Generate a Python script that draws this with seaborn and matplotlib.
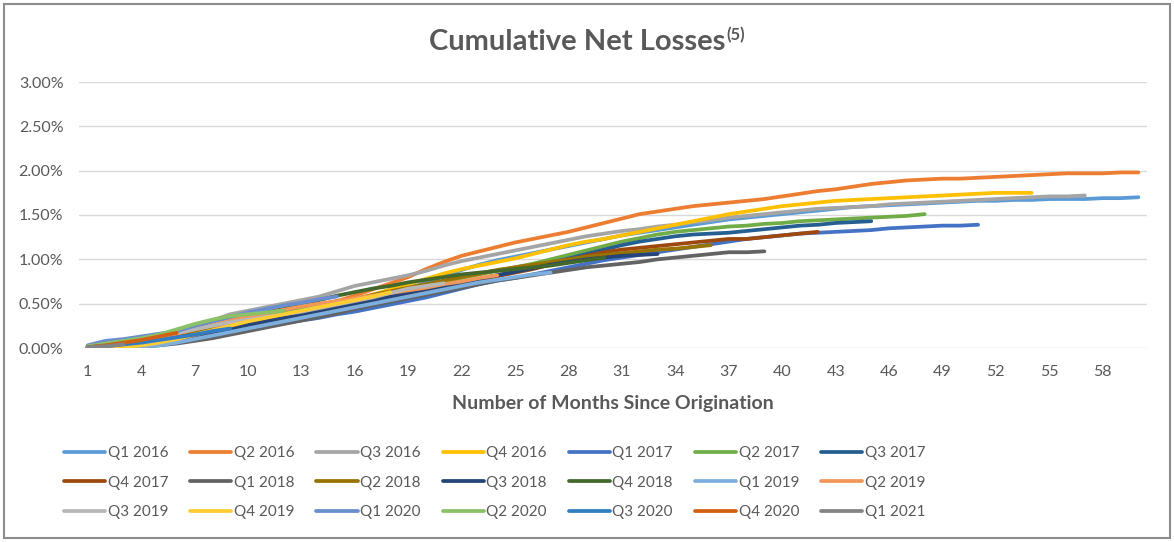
import matplotlib
matplotlib.use("Agg")
import matplotlib.pyplot as plt
from matplotlib.patches import Rectangle
from matplotlib.ticker import FuncFormatter
import seaborn as sns
import pandas as pd

vintages = ["Q1 2016", "Q2 2016", "Q3 2016", "Q4 2016", "Q1 2017", "Q2 2017", "Q3 2017",
            "Q4 2017", "Q1 2018", "Q2 2018", "Q3 2018", "Q4 2018", "Q1 2019", "Q2 2019",
            "Q3 2019", "Q4 2019", "Q1 2020", "Q2 2020", "Q3 2020", "Q4 2020", "Q1 2021"]

colors = ["#5B9BD5", "#ED7D31", "#A5A5A5", "#FFC000", "#4472C4", "#70AD47", "#255E91",
          "#9E480E", "#636363", "#997300", "#264478", "#43682B", "#7CAFDD", "#F1975A",
          "#B7B7B7", "#FFCD33", "#698ED0", "#8CC168", "#327DC2", "#D26012", "#848484"]

# cumulative net losses in percent, month 1 onward
q1_2016 = [0.00, 0.01, 0.02, 0.03, 0.05, 0.08, 0.11, 0.15, 0.19, 0.23,
           0.27, 0.31, 0.35, 0.40, 0.45, 0.50, 0.55, 0.61, 0.67, 0.74,
           0.81, 0.88, 0.94, 0.99, 1.03, 1.07, 1.11, 1.15, 1.19, 1.23,
           1.27, 1.30, 1.33, 1.36, 1.39, 1.42, 1.45, 1.47, 1.49, 1.51,
           1.53, 1.55, 1.57, 1.59, 1.60, 1.61, 1.62, 1.63, 1.64, 1.65,
           1.66, 1.66, 1.67, 1.67, 1.68, 1.68, 1.68, 1.69, 1.69, 1.70]
q2_2016 = [0.00, 0.02, 0.04, 0.07, 0.10, 0.14, 0.18, 0.22, 0.26, 0.30,
           0.34, 0.38, 0.43, 0.48, 0.53, 0.59, 0.66, 0.73, 0.80, 0.89,
           0.97, 1.04, 1.09, 1.14, 1.19, 1.23, 1.27, 1.31, 1.36, 1.41,
           1.46, 1.51, 1.54, 1.57, 1.60, 1.62, 1.64, 1.66, 1.68, 1.71,
           1.74, 1.77, 1.79, 1.82, 1.85, 1.87, 1.89, 1.90, 1.91, 1.91,
           1.92, 1.93, 1.94, 1.95, 1.96, 1.97, 1.97, 1.97, 1.98, 1.98]
q3_2016 = [0.01, 0.04, 0.07, 0.10, 0.14, 0.19, 0.25, 0.31, 0.38, 0.42,
           0.46, 0.50, 0.54, 0.58, 0.64, 0.70, 0.74, 0.78, 0.82, 0.87,
           0.93, 0.98, 1.02, 1.06, 1.10, 1.14, 1.18, 1.22, 1.26, 1.29,
           1.32, 1.34, 1.37, 1.39, 1.42, 1.44, 1.47, 1.49, 1.51, 1.53,
           1.55, 1.57, 1.58, 1.59, 1.60, 1.62, 1.63, 1.64, 1.65, 1.66,
           1.67, 1.68, 1.69, 1.70, 1.71, 1.71, 1.72]
q4_2016 = [0.00, 0.00, 0.01, 0.02, 0.05, 0.09, 0.14, 0.19, 0.24, 0.28,
           0.32, 0.36, 0.40, 0.45, 0.50, 0.55, 0.60, 0.66, 0.72, 0.78,
           0.84, 0.89, 0.93, 0.97, 1.01, 1.06, 1.11, 1.16, 1.20, 1.23,
           1.27, 1.31, 1.35, 1.39, 1.43, 1.47, 1.51, 1.54, 1.57, 1.60,
           1.62, 1.64, 1.66, 1.67, 1.68, 1.69, 1.70, 1.71, 1.72, 1.73,
           1.74, 1.75, 1.75, 1.75]
q1_2017 = [0.00, 0.02, 0.04, 0.06, 0.08, 0.10, 0.13, 0.16, 0.19, 0.22,
           0.25, 0.28, 0.31, 0.34, 0.38, 0.41, 0.45, 0.49, 0.53, 0.57,
           0.62, 0.67, 0.72, 0.76, 0.79, 0.83, 0.87, 0.91, 0.95, 0.99,
           1.02, 1.05, 1.08, 1.11, 1.14, 1.17, 1.20, 1.23, 1.25, 1.27,
           1.29, 1.30, 1.31, 1.32, 1.33, 1.35, 1.36, 1.37, 1.38, 1.38,
           1.39]
q2_2017 = [0.01, 0.04, 0.07, 0.10, 0.14, 0.18, 0.22, 0.26, 0.30, 0.33,
           0.36, 0.40, 0.43, 0.47, 0.51, 0.55, 0.59, 0.63, 0.67, 0.71,
           0.75, 0.79, 0.83, 0.87, 0.91, 0.95, 1.00, 1.05, 1.10, 1.15,
           1.20, 1.24, 1.28, 1.31, 1.33, 1.35, 1.37, 1.38, 1.40, 1.41,
           1.43, 1.44, 1.45, 1.46, 1.47, 1.48, 1.49, 1.51]
q3_2017 = [0.00, 0.02, 0.05, 0.08, 0.11, 0.14, 0.17, 0.20, 0.24, 0.27,
           0.31, 0.34, 0.38, 0.42, 0.46, 0.50, 0.54, 0.58, 0.62, 0.66,
           0.70, 0.74, 0.78, 0.82, 0.86, 0.91, 0.96, 1.01, 1.06, 1.11,
           1.16, 1.20, 1.23, 1.26, 1.28, 1.29, 1.30, 1.32, 1.34, 1.36,
           1.38, 1.39, 1.41, 1.42, 1.43]
q4_2017 = [0.00, 0.01, 0.03, 0.05, 0.08, 0.11, 0.14, 0.17, 0.21, 0.25,
           0.29, 0.33, 0.37, 0.41, 0.45, 0.49, 0.53, 0.57, 0.61, 0.65,
           0.69, 0.73, 0.77, 0.81, 0.85, 0.89, 0.94, 0.99, 1.04, 1.08,
           1.11, 1.13, 1.15, 1.17, 1.19, 1.21, 1.23, 1.23, 1.25, 1.27,
           1.29, 1.31]
q1_2018 = [0.00, 0.00, 0.00, 0.01, 0.03, 0.05, 0.08, 0.11, 0.15, 0.19,
           0.23, 0.27, 0.31, 0.35, 0.39, 0.44, 0.48, 0.52, 0.56, 0.60,
           0.64, 0.68, 0.72, 0.76, 0.79, 0.82, 0.85, 0.88, 0.91, 0.93,
           0.95, 0.97, 1.00, 1.02, 1.04, 1.06, 1.08, 1.08, 1.09]
q2_2018 = [0.01, 0.03, 0.05, 0.08, 0.11, 0.14, 0.17, 0.21, 0.25, 0.29,
           0.33, 0.37, 0.41, 0.45, 0.50, 0.55, 0.60, 0.64, 0.68, 0.72,
           0.76, 0.80, 0.84, 0.88, 0.91, 0.94, 0.97, 1.00, 1.03, 1.05,
           1.07, 1.09, 1.11, 1.12, 1.14, 1.16]
q3_2018 = [0.00, 0.01, 0.03, 0.06, 0.09, 0.12, 0.15, 0.18, 0.22, 0.26,
           0.30, 0.34, 0.38, 0.42, 0.46, 0.50, 0.54, 0.58, 0.62, 0.66,
           0.70, 0.74, 0.78, 0.82, 0.86, 0.90, 0.94, 0.97, 1.00, 1.02,
           1.04, 1.05, 1.06]
q4_2018 = [0.01, 0.04, 0.07, 0.11, 0.15, 0.19, 0.23, 0.27, 0.31, 0.35,
           0.40, 0.44, 0.49, 0.54, 0.59, 0.63, 0.67, 0.70, 0.74, 0.77,
           0.80, 0.83, 0.85, 0.87, 0.89, 0.91, 0.93, 0.96, 0.99, 1.02]
q1_2019 = [0.00, 0.00, 0.00, 0.01, 0.03, 0.06, 0.10, 0.14, 0.18, 0.22,
           0.26, 0.30, 0.34, 0.38, 0.42, 0.46, 0.50, 0.54, 0.58, 0.62,
           0.66, 0.70, 0.74, 0.77, 0.80, 0.83, 0.85]
q2_2019 = [0.01, 0.03, 0.05, 0.08, 0.12, 0.16, 0.21, 0.26, 0.31, 0.35,
           0.39, 0.43, 0.47, 0.50, 0.53, 0.56, 0.59, 0.62, 0.65, 0.68,
           0.72, 0.75, 0.79, 0.82]
q3_2019 = [0.01, 0.03, 0.06, 0.09, 0.13, 0.17, 0.21, 0.25, 0.29, 0.32,
           0.35, 0.38, 0.41, 0.45, 0.49, 0.53, 0.57, 0.62, 0.67, 0.70, 0.73]
q4_2019 = [0.00, 0.00, 0.01, 0.03, 0.06, 0.10, 0.15, 0.20, 0.25, 0.30,
           0.34, 0.38, 0.42, 0.46, 0.50, 0.54, 0.58, 0.63]
q1_2020 = [0.03, 0.08, 0.10, 0.13, 0.16, 0.19, 0.25, 0.30, 0.35, 0.40,
           0.44, 0.48, 0.51, 0.55, 0.58]
q2_2020 = [0.02, 0.05, 0.08, 0.11, 0.15, 0.21, 0.27, 0.32, 0.36, 0.38, 0.40, 0.42]
q3_2020 = [0.01, 0.02, 0.04, 0.06, 0.09, 0.12, 0.15, 0.19, 0.22]
q4_2020 = [0.01, 0.03, 0.06, 0.09, 0.13, 0.17]
q1_2021 = [0.01, 0.02, 0.04]

series = [q1_2016, q2_2016, q3_2016, q4_2016, q1_2017, q2_2017, q3_2017, q4_2017,
          q1_2018, q2_2018, q3_2018, q4_2018, q1_2019, q2_2019, q3_2019, q4_2019,
          q1_2020, q2_2020, q3_2020, q4_2020, q1_2021]

x_ticks = list(range(1, 61, 3))
y_ticks = [0.0, 0.5, 1.0, 1.5, 2.0, 2.5, 3.0]

rows = []
for name, vals in zip(vintages, series):
    for i, v in enumerate(vals):
        rows.append({"Month": i + 1, "Loss": v, "Vintage": name})
df = pd.DataFrame(rows)

sns.set_style("white")
FONT = ["Lato", "DejaVu Sans"]
plt.rcParams["font.family"] = FONT
TXT = "#595959"

W, H = 1174, 542
fig = plt.figure(figsize=(W / 100, H / 100), dpi=100)
fig.patch.set_facecolor("white")

x0, x1 = 78.7, 1147.3
y_top, y_bot = 82, 348
ax = fig.add_axes([x0 / W, (H - y_bot) / H, (x1 - x0) / W, (y_bot - y_top) / H])

sns.lineplot(data=df, x="Month", y="Loss", hue="Vintage", hue_order=vintages,
             palette=colors, linewidth=2.7, estimator=None, legend=False, ax=ax,
             solid_capstyle="round", solid_joinstyle="round")

ax.set_xlim(0.5, 60.5)
ax.set_ylim(0, 3.0)
ax.set_xticks(x_ticks)
ax.set_yticks(y_ticks)
ax.yaxis.set_major_formatter(FuncFormatter(lambda v, p: f"{v:.2f}%"))
ax.grid(axis="y", color="#D9D9D9", linewidth=1.0)
ax.grid(axis="x", visible=False)
ax.set_axisbelow(True)
for s in ax.spines.values():
    s.set_visible(False)
ax.tick_params(axis="both", length=0, labelcolor=TXT, labelsize=11.5)
ax.tick_params(axis="x", pad=12)
ax.tick_params(axis="y", pad=11)
ax.set_xlabel("")
ax.set_ylabel("")

fig.text((x0 + x1) / 2 / W, 1 - 409 / H, "Number of Months Since Origination",
         ha="center", va="baseline", fontsize=14, fontweight="bold", color=TXT)

# title with superscript
t1 = fig.text(0, 1 - 50 / H, "Cumulative Net Losses", ha="left", va="baseline",
              fontsize=21, fontweight="bold", color=TXT)
t2 = fig.text(0, 1 - 40 / H, "(5)", ha="left", va="baseline",
              fontsize=12, fontweight="bold", color=TXT)
fig.canvas.draw()
r = fig.canvas.get_renderer()
w1 = t1.get_window_extent(r).width
w2 = t2.get_window_extent(r).width
start = W / 2 - (w1 + w2 + 1) / 2
t1.set_x(start / W)
t2.set_x((start + w1 + 1) / W)

# legend laid out row by row (matplotlib fills columns first)
handles = ax.lines[:len(vintages)]
ncol, nrow = 7, 3
order = [r_ * ncol + c for c in range(ncol) for r_ in range(nrow)]
leg = fig.legend([handles[i] for i in order], [vintages[i] for i in order],
                 loc="upper left", bbox_to_anchor=(64 / W, 1 - 446 / H),
                 ncol=ncol, frameon=False, fontsize=11, handlelength=2.7, handletextpad=0.15,
                 columnspacing=1.45, labelspacing=1.02, borderpad=0, borderaxespad=0)
for t in leg.get_texts():
    t.set_color(TXT)

fig.patches.append(Rectangle((4 / W, 4 / H), (W - 8) / W, (H - 8) / H, transform=fig.transFigure,
                             fill=False, edgecolor="#8C8C8C", linewidth=1.5))

fig.savefig("out.png", dpi=100, facecolor="white")
